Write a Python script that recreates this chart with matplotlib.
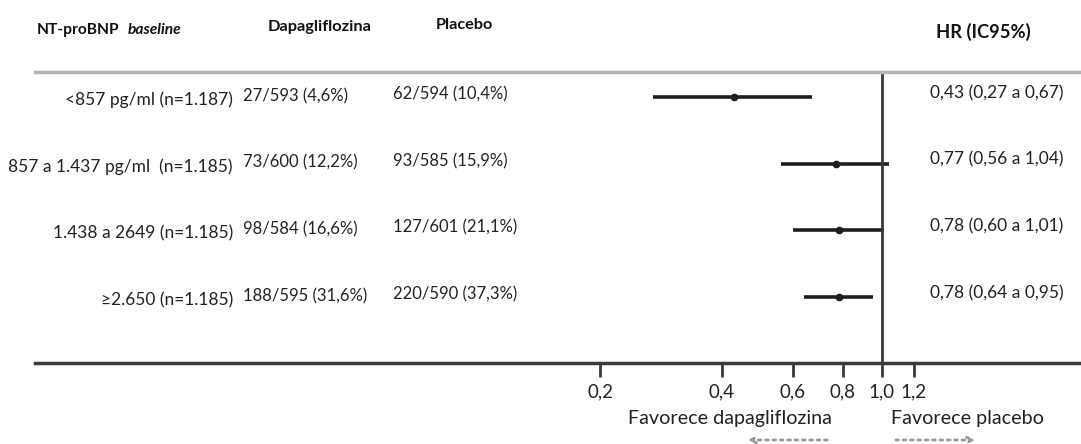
import numpy as np
import matplotlib
matplotlib.use("Agg")
import matplotlib.pyplot as plt
from matplotlib.transforms import blended_transform_factory
from matplotlib.ticker import NullLocator

plt.rcParams['font.family'] = ['Lato', 'DejaVu Sans']

# data
subgroups = ["<857 pg/ml (n=1.187)", "857 a 1.437 pg/ml  (n=1.185)",
             "1.438 a 2649 (n=1.185)", "\u22652.650 (n=1.185)"]
dapa = ["27/593 (4,6%)", "73/600 (12,2%)", "98/584 (16,6%)", "188/595 (31,6%)"]
placebo = ["62/594 (10,4%)", "93/585 (15,9%)", "127/601 (21,1%)", "220/590 (37,3%)"]
hr = np.array([0.43, 0.77, 0.78, 0.78])
ci_low = np.array([0.27, 0.56, 0.60, 0.64])
ci_high = np.array([0.67, 1.04, 1.01, 0.95])
hr_text = ["0,43 (0,27 a 0,67)", "0,77 (0,56 a 1,04)",
           "0,78 (0,60 a 1,01)", "0,78 (0,64 a 0,95)"]
ticks = [0.2, 0.4, 0.6, 0.8, 1.0, 1.2]
tick_labels = ["0,2", "0,4", "0,6", "0,8", "1,0", "1,2"]

W, H = 1081, 444
fig = plt.figure(figsize=(W / 100, H / 100), dpi=100)

# axes spans x 35..1081 px, y 72..363 px; log scale with 175 px per ln unit, 1.0 at 882 px
ax = fig.add_axes([35 / W, 1 - 363 / H, 1 - 35 / W, (363 - 72) / H])
ax.set_xscale('log')
ax.set_xlim(np.exp((35 - 882) / 175), np.exp((W - 882) / 175))
rows = np.arange(len(subgroups))
ax.set_ylim(3.99, -0.375)

ax.errorbar(hr, rows, xerr=[hr - ci_low, ci_high - hr], fmt='o', ms=4.5,
            color='#1e1e1e', elinewidth=2.6, capsize=0)
ax.axvline(1.0, color='#3a3a3a', lw=2)

for s in ['left', 'right']:
    ax.spines[s].set_visible(False)
ax.spines['top'].set_color('#b4b4b4')
ax.spines['top'].set_linewidth(2.5)
ax.spines['bottom'].set_color('#3a3a3a')
ax.spines['bottom'].set_linewidth(2.5)
ax.set_yticks([])
ax.set_xticks(ticks)
ax.set_xticklabels(tick_labels)
ax.xaxis.set_minor_locator(NullLocator())
ax.tick_params(axis='x', direction='out', length=10, width=2, color='#3a3a3a',
               pad=5, labelsize=13.5, labelcolor='#222')

# table text
tr = blended_transform_factory(fig.transFigure, ax.transData)
for i in rows:
    ax.text(233 / W, i + 0.045, subgroups[i], transform=tr, ha='right', va='center', fontsize=12.5, color='#222')
    ax.text(243 / W, i - 0.015, dapa[i], transform=tr, ha='left', va='center', fontsize=12, color='#222')
    ax.text(393 / W, i - 0.04, placebo[i], transform=tr, ha='left', va='center', fontsize=12, color='#222')
    ax.text(930 / W, i - 0.06, hr_text[i], transform=tr, ha='left', va='center', fontsize=12.5, color='#222')

# headers
fig.text(37 / W, 1 - 30 / H, "NT-proBNP", fontsize=11.2, fontweight='bold', va='center', color='#111')
fig.text(128 / W, 1 - 30 / H, "baseline", fontsize=11.2, fontweight='bold', fontstyle='italic', va='center', color='#111')
fig.text(268 / W, 1 - 27 / H, "Dapagliflozina", fontsize=11.8, fontweight='bold', va='center', color='#111')
fig.text(436 / W, 1 - 25 / H, "Placebo", fontsize=11.7, fontweight='bold', va='center', color='#111')
fig.text(936 / W, 1 - 32 / H, "HR (IC95%)", fontsize=13.2, fontweight='bold', va='center', color='#111')

# favours labels and arrows
fig.text(730 / W, 1 - 418 / H, "Favorece dapagliflozina", fontsize=14.2, ha='center', va='center', color='#222')
fig.text(967 / W, 1 - 418 / H, "Favorece placebo", fontsize=14.2, ha='center', va='center', color='#222')
ax.annotate('', xy=(745, H - 440), xytext=(830, H - 440), xycoords='figure pixels',
            arrowprops=dict(arrowstyle='->', ls=':', lw=2, color='#999'))
ax.annotate('', xy=(978, H - 440), xytext=(893, H - 440), xycoords='figure pixels',
            arrowprops=dict(arrowstyle='->', ls=':', lw=2, color='#999'))

fig.savefig("out.png", dpi=100)
